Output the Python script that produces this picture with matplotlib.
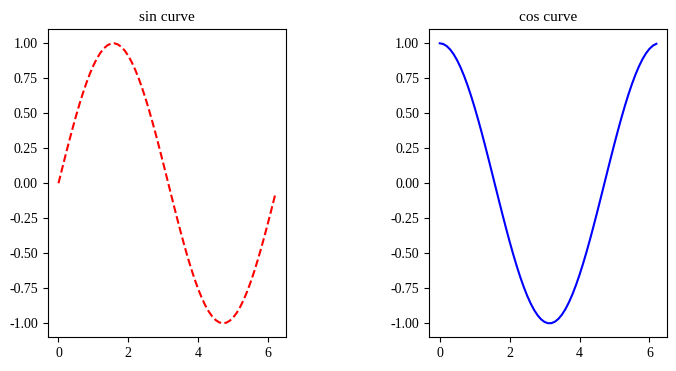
import matplotlib
matplotlib.use("Agg")
import matplotlib.pyplot as plt

plt.rcParams['font.family'] = ['Liberation Serif', 'DejaVu Serif']
plt.rcParams['axes.unicode_minus'] = False

# sample points along x (step 0.1)
x_vals = [0.0, 0.1, 0.2, 0.3, 0.4, 0.5, 0.6, 0.7, 0.8, 0.9,
          1.0, 1.1, 1.2, 1.3, 1.4, 1.5, 1.6, 1.7, 1.8, 1.9,
          2.0, 2.1, 2.2, 2.3, 2.4, 2.5, 2.6, 2.7, 2.8, 2.9,
          3.0, 3.1, 3.2, 3.3, 3.4, 3.5, 3.6, 3.7, 3.8, 3.9,
          4.0, 4.1, 4.2, 4.3, 4.4, 4.5, 4.6, 4.7, 4.8, 4.9,
          5.0, 5.1, 5.2, 5.3, 5.4, 5.5, 5.6, 5.7, 5.8, 5.9,
          6.0, 6.1, 6.2]

sin_vals = [0.0, 0.0998, 0.1987, 0.2955, 0.3894, 0.4794, 0.5646, 0.6442, 0.7174, 0.7833,
            0.8415, 0.8912, 0.9320, 0.9636, 0.9854, 0.9975, 0.9996, 0.9917, 0.9738, 0.9463,
            0.9093, 0.8632, 0.8085, 0.7457, 0.6755, 0.5985, 0.5155, 0.4274, 0.3350, 0.2392,
            0.1411, 0.0416, -0.0584, -0.1577, -0.2555, -0.3508, -0.4425, -0.5298, -0.6119, -0.6878,
            -0.7568, -0.8183, -0.8716, -0.9162, -0.9516, -0.9775, -0.9937, -0.9999, -0.9962, -0.9825,
            -0.9589, -0.9258, -0.8835, -0.8323, -0.7728, -0.7055, -0.6313, -0.5507, -0.4646, -0.3739,
            -0.2794, -0.1822, -0.0831]

cos_vals = [1.0, 0.9950, 0.9801, 0.9553, 0.9211, 0.8776, 0.8253, 0.7648, 0.6967, 0.6216,
            0.5403, 0.4536, 0.3624, 0.2675, 0.1700, 0.0707, -0.0292, -0.1288, -0.2272, -0.3233,
            -0.4161, -0.5048, -0.5885, -0.6663, -0.7374, -0.8011, -0.8569, -0.9041, -0.9422, -0.9710,
            -0.9900, -0.9991, -0.9983, -0.9875, -0.9668, -0.9365, -0.8968, -0.8481, -0.7910, -0.7259,
            -0.6536, -0.5748, -0.4903, -0.4008, -0.3073, -0.2108, -0.1122, -0.0124, 0.0875, 0.1865,
            0.2837, 0.3780, 0.4685, 0.5544, 0.6347, 0.7087, 0.7756, 0.8347, 0.8855, 0.9275,
            0.9602, 0.9833, 0.9965]

fig, (ax1, ax2) = plt.subplots(1, 2, figsize=(6.76, 3.71), dpi=100)
fig.subplots_adjust(left=0.0705, right=0.987, bottom=0.091, top=0.921, wspace=0.6)

ax1.plot(x_vals, sin_vals, 'r--')
ax1.set_title('sin curve', fontsize=11)

ax2.plot(x_vals, cos_vals, 'b-')
ax2.set_title('cos curve', fontsize=11)

for ax in (ax1, ax2):
    ax.tick_params(labelsize=10)

fig.savefig('out.png', dpi=100)
